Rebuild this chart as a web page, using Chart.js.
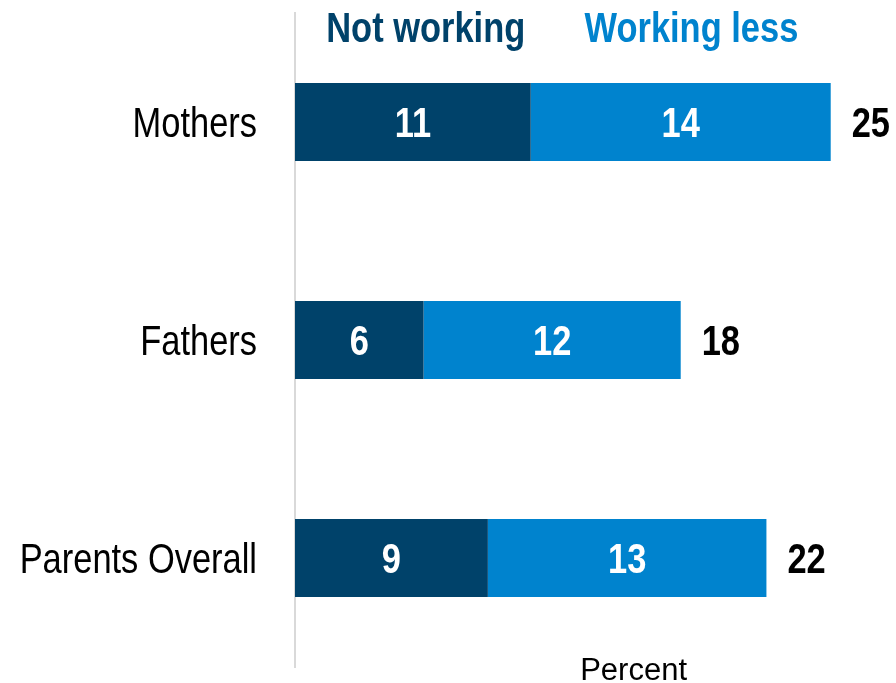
<!DOCTYPE html>
<html>
<head>
<meta charset="utf-8">
<script src="https://cdn.jsdelivr.net/npm/chart.js@4"></script>
<style>
  html, body { margin: 0; padding: 0; background: #fff; }
  #wrap { width: 896px; height: 683px; }
</style>
</head>
<body>
<div id="wrap"><canvas id="chart" width="896" height="683"></canvas></div>
<script>
const groups = ['Mothers', 'Fathers', 'Parents Overall']
const notWorking = [11, 6, 9]
const workingLess = [14, 12, 13]
const totals = [25, 18, 22]
const seriesNames = ['Not working', 'Working less']

const darkBlue = '#00426A'
const lightBlue = '#0083CE'
const sans = '"Liberation Sans", Arial, sans-serif'

// no narrow face installed, so squeeze Liberation Sans by hand
function narrowText(ctx, text, x, y, align, font, color) {
    ctx.save()
    ctx.font = font
    ctx.fillStyle = color
    ctx.textAlign = align
    ctx.textBaseline = 'alphabetic'
    ctx.translate(x, y)
    ctx.scale(0.82, 1)
    ctx.fillText(text, 0, 0)
    ctx.restore()
}

const labelPlugin = {
    id: 'labels',
    afterDatasetsDraw(chart) {
        const ctx = chart.ctx
        const xs = chart.scales.x
        const ys = chart.scales.y
        const bold = 'bold 42px ' + sans
        const reg = '42px ' + sans

        groups.forEach(function (g, i) {
            narrowText(ctx, g, ys.right - 38, ys.getPixelForValue(i) + 15, 'right', reg, '#000')
        })
        chart.data.datasets.forEach(function (ds, di) {
            chart.getDatasetMeta(di).data.forEach(function (bar, i) {
                const p = bar.getProps(['x', 'y', 'base'], true)
                narrowText(ctx, String(ds.data[i]), (p.x + p.base) / 2, p.y + 15, 'center', bold, '#fff')
            })
        })
        const last = chart.getDatasetMeta(1).data
        totals.forEach(function (t, i) {
            const p = last[i].getProps(['x', 'y'], true)
            narrowText(ctx, String(t), p.x + 21, p.y + 15, 'left', bold, '#000')
        })
        narrowText(ctx, seriesNames[0], xs.getPixelForValue(6.1), 42, 'center', bold, darkBlue)
        narrowText(ctx, seriesNames[1], xs.getPixelForValue(18.5), 42, 'center', bold, lightBlue)

        ctx.save()
        ctx.font = '31px ' + sans
        ctx.fillStyle = '#000'
        ctx.textAlign = 'center'
        ctx.textBaseline = 'alphabetic'
        ctx.fillText('Percent', xs.getPixelForValue(15.8), 680)
        ctx.restore()
    }
}

new Chart(document.getElementById('chart'), {
    type: 'bar',
    data: {
        labels: groups,
        datasets: [
            { label: seriesNames[0], data: notWorking, backgroundColor: darkBlue, borderWidth: 0 },
            { label: seriesNames[1], data: workingLess, backgroundColor: lightBlue, borderWidth: 0 }
        ]
    },
    options: {
        indexAxis: 'y',
        responsive: false,
        animation: false,
        layout: { padding: { top: 13, bottom: 16, right: 1, left: 0 } },
        datasets: { bar: { categoryPercentage: 1, barPercentage: 0.358 } },
        plugins: { legend: { display: false }, tooltip: { enabled: false } },
        scales: {
            x: { stacked: true, display: false, min: 0, max: 28 },
            y: {
                stacked: true,
                grid: { display: false, drawTicks: false },
                border: { display: true, color: '#D9D9D9', width: 2 },
                ticks: { display: false },
                afterFit(scale) { scale.width = 295 }
            }
        }
    },
    plugins: [labelPlugin]
})
</script>
</body>
</html>
